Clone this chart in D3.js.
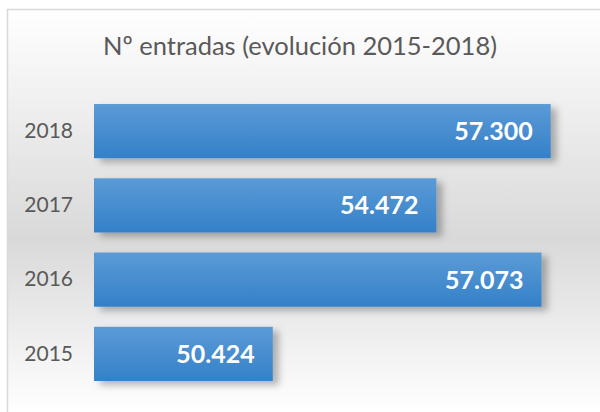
<!DOCTYPE html>
<html>
<head>
<meta charset="utf-8">
<script src="https://cdn.jsdelivr.net/npm/d3@7"></script>
<style>
	html, body { margin: 0; padding: 0; background: #fff; }
	svg { display: block; font-family: Lato, "Open Sans", sans-serif; }
</style>
</head>
<body>
<div id="chart"></div>
<script>
// data
const years = ['2015', '2016', '2017', '2018'];
const entradas = [50424, 57073, 54472, 57300];
const labels = ['50.424', '57.073', '54.472', '57.300'];
const title = 'Nº entradas (evolución 2015-2018)';

const W = 600, H = 412;

const svg = d3.select('#chart').append('svg')
	.attr('width', W)
	.attr('height', H);

const defs = svg.append('defs');

// fondo gris degradado
const bg = defs.append('linearGradient')
	.attr('id', 'bgGrad')
	.attr('gradientUnits', 'userSpaceOnUse')
	.attr('x1', 0).attr('y1', 9).attr('x2', 0).attr('y2', 412);
bg.append('stop').attr('offset', 0).attr('stop-color', '#ffffff');
bg.append('stop').attr('offset', 0.57).attr('stop-color', '#d9d9d9');
bg.append('stop').attr('offset', 1).attr('stop-color', '#ffffff');

// barras azul degradado
const barGrad = defs.append('linearGradient')
	.attr('id', 'barGrad')
	.attr('x1', 0).attr('y1', 0).attr('x2', 0).attr('y2', 1);
barGrad.append('stop').attr('offset', 0).attr('stop-color', '#5b9bd6');
barGrad.append('stop').attr('offset', 1).attr('stop-color', '#3480c9');

const shadow = defs.append('filter')
	.attr('id', 'shadow')
	.attr('x', '-10%').attr('y', '-30%')
	.attr('width', '130%').attr('height', '180%');
shadow.append('feDropShadow')
	.attr('dx', 6).attr('dy', 4)
	.attr('stdDeviation', 3.5)
	.attr('flood-color', '#000')
	.attr('flood-opacity', 0.28);

svg.append('rect')
	.attr('x', 7.5).attr('y', 9.5)
	.attr('width', W + 10).attr('height', H + 10)
	.attr('fill', 'url(#bgGrad)')
	.attr('stroke', '#d9d9d9')
	.attr('stroke-width', 1.5);

svg.append('text')
	.attr('x', 300)
	.attr('y', 55)
	.attr('text-anchor', 'middle')
	.attr('font-size', 25.5)
	.attr('fill', '#595959')
	.text(title);

// scales
const x = d3.scaleLinear().domain([46000, 58000]).range([94, 579]);
const y = d3.scaleBand()
	.domain(years.slice().reverse())
	.range([94, 391])
	.paddingInner(0.27)
	.paddingOuter(0.135);

const data = years.map((d, i) => ({ year: d, value: entradas[i], label: labels[i] }));

svg.append('g')
	.selectAll('rect')
	.data(data)
	.enter()
	.append('rect')
	.attr('x', x(46000))
	.attr('y', d => y(d.year))
	.attr('width', d => x(d.value) - x(46000))
	.attr('height', y.bandwidth())
	.attr('fill', 'url(#barGrad)')
	.attr('filter', 'url(#shadow)');

svg.append('g')
	.selectAll('text')
	.data(data)
	.enter()
	.append('text')
	.attr('x', d => x(d.value) - 18)
	.attr('y', d => y(d.year) + y.bandwidth() / 2)
	.attr('dy', '0.36em')
	.attr('text-anchor', 'end')
	.attr('font-size', 25)
	.attr('font-weight', 'bold')
	.attr('fill', '#fff')
	.text(d => d.label);

const yAxis = svg.append('g')
	.attr('transform', 'translate(94,0)')
	.call(d3.axisLeft(y).tickSize(0).tickPadding(21));
yAxis.select('.domain').remove();
yAxis.selectAll('text')
	.attr('font-size', 21)
	.attr('font-family', 'Lato, "Open Sans", sans-serif')
	.attr('fill', '#595959');
</script>
</body>
</html>
